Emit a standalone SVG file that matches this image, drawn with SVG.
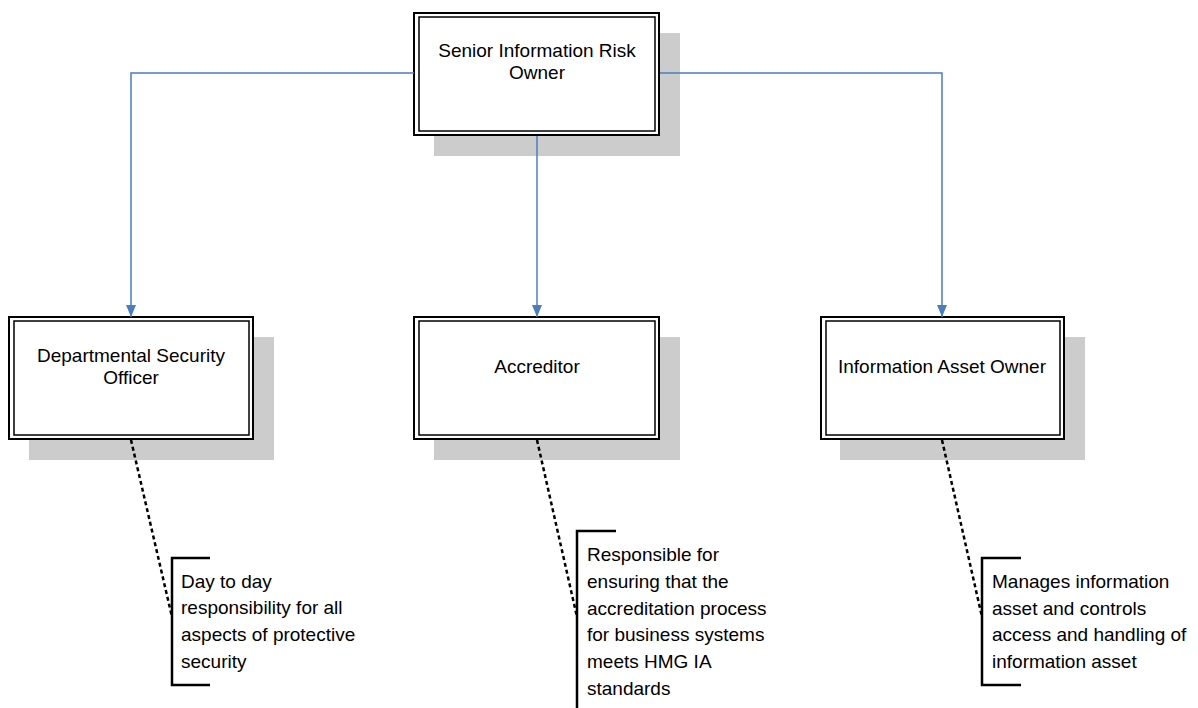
<svg xmlns="http://www.w3.org/2000/svg" width="1198" height="708" viewBox="0 0 1198 708">
<defs>
<style>
.shadow{fill:#cccccc;stroke:none}
.outer{fill:#ffffff;stroke:#000;stroke-width:2}
.inner{fill:none;stroke:#000;stroke-width:1.5}
.lbl{font-family:"Liberation Sans",Arial,sans-serif;font-size:19px;fill:#000;text-anchor:middle}
.note{font-family:"Liberation Sans",Arial,sans-serif;font-size:19px;fill:#000}
.conn{fill:none;stroke:#4a7ebb;stroke-width:1.5}
.dot{fill:none;stroke:#000;stroke-width:2.5;stroke-dasharray:4 3}
.brk{fill:none;stroke:#000;stroke-width:2.5}
</style>
<marker id="arr" viewBox="0 0 12 10" refX="12" refY="5" markerWidth="12" markerHeight="10" markerUnits="userSpaceOnUse" orient="auto">
<path d="M0,0 L12,5 L0,10 Z" fill="#4a7ebb"/>
</marker>
</defs>
<rect width="1198" height="708" fill="#ffffff"/>
<g id="siro">
<rect class="shadow" x="434" y="33" width="246" height="123"/>
<rect class="outer" x="414" y="13" width="245" height="122"/>
<rect class="inner" x="419" y="17" width="236" height="114"/>
<text class="lbl" x="537" y="57">Senior Information Risk</text>
<text class="lbl" x="537" y="79">Owner</text>
</g>
<g id="dso">
<rect class="shadow" x="29" y="337" width="245" height="123"/>
<rect class="outer" x="9" y="317" width="244" height="122"/>
<rect class="inner" x="14" y="321" width="235" height="114"/>
<text class="lbl" x="131" y="362">Departmental Security</text>
<text class="lbl" x="131" y="384">Officer</text>
</g>
<g id="accreditor">
<rect class="shadow" x="434" y="337" width="246" height="123"/>
<rect class="outer" x="414" y="317" width="245" height="122"/>
<rect class="inner" x="419" y="321" width="236" height="114"/>
<text class="lbl" x="537" y="373">Accreditor</text>
</g>
<g id="iao">
<rect class="shadow" x="840" y="337" width="245" height="123"/>
<rect class="outer" x="821" y="317" width="243" height="122"/>
<rect class="inner" x="826" y="321" width="234" height="114"/>
<text class="lbl" x="942" y="373">Information Asset Owner</text>
</g>
<g id="note-dso">
<path class="brk" d="M210,558 H172 V685 H210"/>
<text class="note" x="181" y="588">Day to day</text>
<text class="note" x="181" y="614">responsibility for all</text>
<text class="note" x="181" y="641">aspects of protective</text>
<text class="note" x="181" y="668">security</text>
</g>
<g id="note-accreditor">
<path class="brk" d="M616,531 H577 V712"/>
<text class="note" x="587" y="561">Responsible for</text>
<text class="note" x="587" y="588">ensuring that the</text>
<text class="note" x="587" y="615">accreditation process</text>
<text class="note" x="587" y="641">for business systems</text>
<text class="note" x="587" y="668">meets HMG IA</text>
<text class="note" x="587" y="695">standards</text>
</g>
<g id="note-iao">
<path class="brk" d="M1021,558 H982 V685 H1021"/>
<text class="note" x="992" y="588">Manages information</text>
<text class="note" x="992" y="615">asset and controls</text>
<text class="note" x="992" y="641">access and handling of</text>
<text class="note" x="992" y="668">information asset</text>
</g>
<g id="connectors">
<path class="conn" d="M414,73 H131 V317" marker-end="url(#arr)"/>
<path class="conn" d="M537,136 V317" marker-end="url(#arr)"/>
<path class="conn" d="M660,73 H942 V317" marker-end="url(#arr)"/>
<path class="dot" d="M131,440 L172,617"/>
<path class="dot" d="M537,440 L577,617"/>
<path class="dot" d="M942,440 L982,617"/>
</g>
</svg>
